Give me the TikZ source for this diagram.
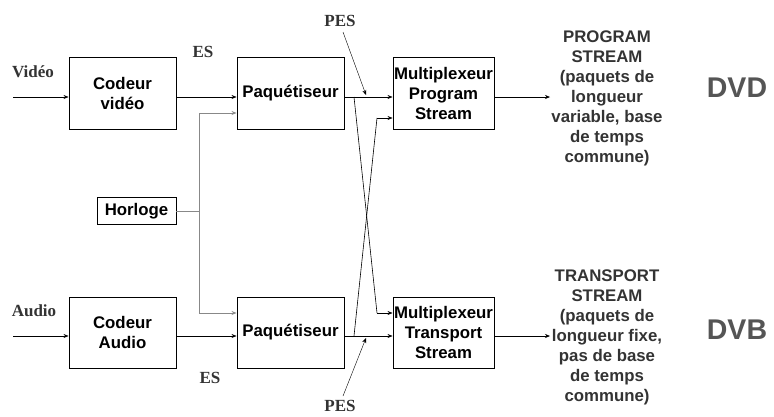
\documentclass[tikz,border=0pt]{standalone}
\usepackage{fontspec}
\setmainfont{Liberation Serif}
\setsansfont{Liberation Sans}
\usetikzlibrary{arrows.meta}
\definecolor{txtgris}{HTML}{333333}
\definecolor{dvgris}{HTML}{555555}
\definecolor{filgris}{HTML}{888888}
\tikzstyle{bloc}=[draw=black,line width=0.9pt,align=center,inner sep=0pt,font=\sffamily\bfseries\fontsize{16.8}{20}\selectfont]
\tikzstyle{lbl}=[text=txtgris,inner sep=0pt,font=\rmfamily\bfseries\fontsize{17}{19}\selectfont]
\tikzstyle{sortie}=[text=txtgris,align=center,inner sep=0pt,font=\sffamily\bfseries\fontsize{16.8}{20}\selectfont]
\tikzstyle{fl}=[line width=0.6pt,-{Stealth[length=5pt,width=4pt]}]
\tikzstyle{flg}=[fl,draw=filgris,line width=0.9pt]

\begin{document}
\begin{tikzpicture}[x=1pt,y=-1pt]
			\useasboundingbox (0,0) rectangle (774,416);

			\node (cv) at (122.5,93) [bloc,minimum width=107pt,minimum height=72pt] {Codeur\\vidéo};
			\node (pv) at (290.5,93) [bloc,minimum width=107pt,minimum height=72pt] {Paquétiseur};
			\node (mps) at (443.5,93) [bloc,minimum width=101pt,minimum height=72pt] {Multiplexeur\\Program\\Stream};
			\node (hor) at (136.5,211) [bloc,minimum width=79pt,minimum height=27pt] {Horloge};
			\node (ca) at (122.5,332.5) [bloc,minimum width=107pt,minimum height=71pt] {Codeur\\Audio};
			\node (pa) at (290.5,332.5) [bloc,minimum width=107pt,minimum height=71pt] {Paquétiseur};
			\node (mts) at (443.5,332.5) [bloc,minimum width=101pt,minimum height=71pt] {Multiplexeur\\Transport\\Stream};

			\node (vid) at (33,72) [lbl] {Vidéo};
			\node (aud) at (34,311) [lbl] {Audio};
			\node (es1) at (203,52) [lbl] {ES};
			\node (es2) at (210,378) [lbl] {ES};
			\node (pes1) at (340,21) [lbl] {PES};
			\node (pes2) at (340,406) [lbl] {PES};

			\node (ps) at (607,98.5) [sortie] {PROGRAM\\STREAM\\(paquets de\\longueur\\variable, base\\de temps\\commune)};
			\node (ts) at (607,337.5) [sortie] {TRANSPORT\\STREAM\\(paquets de\\longueur fixe,\\pas de base\\de temps\\commune)};
			\node (dvd) at (737,88) [text=dvgris,font=\sffamily\bfseries\fontsize{28.5}{30}\selectfont] {DVD};
			\node (dvb) at (737,330) [text=dvgris,font=\sffamily\bfseries\fontsize{28.5}{30}\selectfont] {DVB};

			\coordinate (vin) at (13,97);
			\coordinate (ain) at (13,336);
			\coordinate (hv) at (199,211);
			\coordinate (x1) at (354,97);
			\coordinate (x2) at (354,336);
			\coordinate (y1) at (377,118);
			\coordinate (y2) at (377,313);
			\coordinate (psout) at (550,97);
			\coordinate (tsout) at (550,336);
			\coordinate (pt1) at (343,32);
			\coordinate (pt2) at (343,396);
			\coordinate (pp1) at (366,95);
			\coordinate (pp2) at (366,338);

			% flux video / audio
			\draw [fl] (vin) -- (vin -| cv.west);
			\draw [fl] (ain) -- (ain -| ca.west);
			\draw [fl] (cv.east |- vin) -- (vin -| pv.west);
			\draw [fl] (ca.east |- ain) -- (ain -| pa.west);

			% horloge
			\draw [draw=filgris,line width=0.9pt] (hor.east) -- (hv);
			\draw [flg] (hv) |- (pv.west |- 0,113);
			\draw [flg] (hv) |- (pa.west |- 0,313);

			% croisement PES
			\draw [fl] (pv.east |- vin) -- (vin -| mps.west);
			\draw [fl] (pa.east |- ain) -- (ain -| mts.west);
			\draw [line width=0.6pt] (x1) -- (y2);
			\draw [line width=0.6pt] (x2) -- (y1);
			\draw [fl] (y1) -- (y1 -| mps.west);
			\draw [fl] (y2) -- (y2 -| mts.west);
			\draw [fl,line width=0.4pt] (pt1) -- (pp1);
			\draw [fl,line width=0.4pt] (pt2) -- (pp2);

			\draw [fl] (mps.east |- psout) -- (psout);
			\draw [fl] (mts.east |- tsout) -- (tsout);
		\end{tikzpicture}
\end{document}
